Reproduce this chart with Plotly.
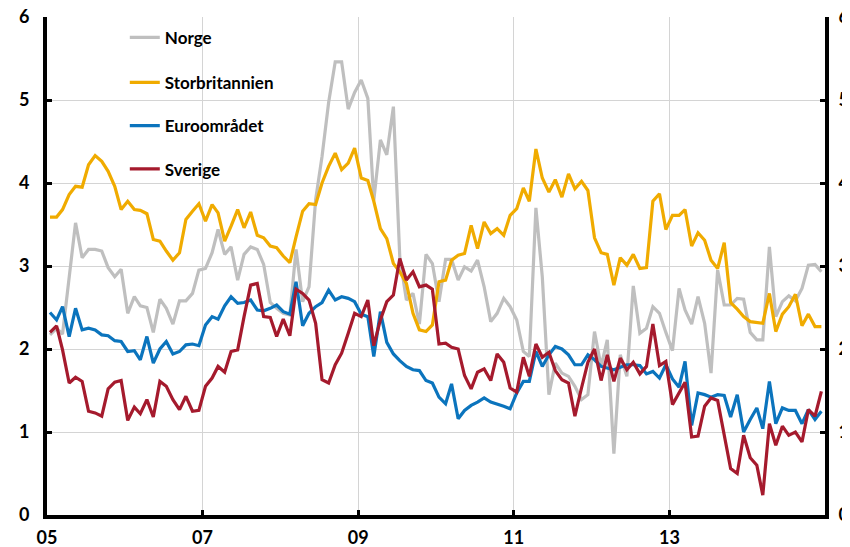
import plotly.graph_objects as go
import pandas as pd

# Monthly observations Jan 2005 - Dec 2014 (plotted mid-month)
months = pd.date_range("2005-01-01", periods=120, freq="MS") + pd.Timedelta(days=14)

norge = [
    2.17, 2.25, 2.18, 2.85, 3.52, 3.10, 3.20, 3.20, 3.18, 2.98, 2.87, 2.96,
    2.43, 2.63, 2.52, 2.50, 2.20, 2.60, 2.49, 2.30, 2.58, 2.58, 2.67, 2.95,
    2.97, 3.16, 3.44, 3.14, 3.23, 2.83, 3.14, 3.23, 3.20, 3.02, 2.56, 2.49,
    2.43, 2.41, 3.20, 2.57, 2.75, 3.80, 4.32, 4.97, 5.46, 5.46, 4.89, 5.09,
    5.24, 5.02, 3.79, 4.52, 4.34, 4.92, 3.11, 2.59, 2.67, 2.30, 3.14, 3.03,
    2.57, 3.08, 3.08, 2.83, 2.99, 2.94, 3.07, 2.75, 2.33, 2.43, 2.61, 2.51,
    2.35, 1.97, 1.91, 3.70, 2.87, 1.45, 1.83, 1.71, 1.67, 1.55, 1.39, 1.45,
    2.21, 1.79, 2.11, 0.74, 1.93, 1.67, 2.76, 2.19, 2.25, 2.51, 2.43, 2.20,
    1.98, 2.73, 2.47, 2.30, 2.63, 2.31, 1.71, 2.95, 2.53, 2.53, 2.61, 2.60,
    2.20, 2.11, 2.11, 3.23, 2.39, 2.57, 2.64, 2.58, 2.73, 3.01, 3.02, 2.93,
]

storbritannien = [
    3.59, 3.59, 3.68, 3.86, 3.96, 3.95, 4.22, 4.33, 4.26, 4.14, 3.96, 3.68,
    3.78, 3.68, 3.67, 3.63, 3.32, 3.30, 3.18, 3.07, 3.16, 3.56, 3.66, 3.75,
    3.54, 3.74, 3.64, 3.30, 3.48, 3.68, 3.46, 3.65, 3.37, 3.34, 3.24, 3.22,
    3.12, 3.04, 3.35, 3.66, 3.75, 3.74, 4.00, 4.20, 4.36, 4.16, 4.24, 4.42,
    4.06, 4.03, 3.78, 3.45, 3.33, 3.03, 2.93, 2.79, 2.43, 2.23, 2.21, 2.29,
    2.81, 2.83, 3.07, 3.13, 3.15, 3.49, 3.21, 3.53, 3.39, 3.45, 3.37, 3.61,
    3.69, 3.94, 3.78, 4.41, 4.06, 3.89, 4.04, 3.83, 4.11, 3.93, 4.02, 3.91,
    3.34, 3.16, 3.14, 2.77, 3.10, 3.01, 3.14, 2.97, 2.98, 3.78, 3.87, 3.44,
    3.61, 3.61, 3.68, 3.24, 3.40, 3.31, 3.07, 2.97, 3.28, 2.56, 2.48, 2.39,
    2.33, 2.32, 2.31, 2.67, 2.21, 2.42, 2.51, 2.66, 2.28, 2.42, 2.27, 2.27,
]

euroomradet = [
    2.44, 2.35, 2.51, 2.15, 2.49, 2.23, 2.25, 2.23, 2.17, 2.16, 2.10, 2.09,
    1.97, 1.98, 1.87, 2.15, 1.83, 2.00, 2.09, 1.94, 1.97, 2.05, 2.06, 2.04,
    2.29, 2.39, 2.36, 2.52, 2.63, 2.55, 2.56, 2.59, 2.47, 2.46, 2.49, 2.53,
    2.45, 2.42, 2.81, 2.28, 2.43, 2.51, 2.56, 2.71, 2.59, 2.63, 2.61, 2.57,
    2.42, 2.39, 1.91, 2.45, 2.08, 1.94, 1.86, 1.79, 1.75, 1.74, 1.62, 1.59,
    1.42, 1.34, 1.58, 1.16, 1.26, 1.32, 1.36, 1.41, 1.36, 1.34, 1.31, 1.28,
    1.47, 1.61, 1.61, 1.97, 1.79, 1.93, 2.03, 2.00, 1.93, 1.81, 1.81, 1.93,
    1.87, 1.79, 1.77, 1.75, 1.78, 1.81, 1.81, 1.80, 1.70, 1.73, 1.65, 1.81,
    1.64, 1.54, 1.85, 1.08, 1.47, 1.45, 1.42, 1.45, 1.44, 1.18, 1.45, 1.00,
    1.15, 1.29, 1.04, 1.61, 1.10, 1.29, 1.26, 1.26, 1.10, 1.27, 1.15, 1.25,
]

sverige = [
    2.20, 2.28, 1.99, 1.59, 1.66, 1.61, 1.25, 1.23, 1.19, 1.52, 1.60, 1.62,
    1.14, 1.30, 1.22, 1.39, 1.18, 1.61, 1.55, 1.39, 1.27, 1.43, 1.25, 1.26,
    1.55, 1.65, 1.79, 1.72, 1.97, 1.99, 2.39, 2.77, 2.79, 2.39, 2.38, 2.15,
    2.36, 2.16, 2.72, 2.67, 2.59, 2.31, 1.63, 1.59, 1.81, 1.95, 2.19, 2.43,
    2.39, 2.59, 2.04, 2.35, 2.57, 2.65, 3.09, 2.83, 2.93, 2.75, 2.77, 2.72,
    2.06, 2.07, 2.02, 2.00, 1.68, 1.52, 1.72, 1.76, 1.62, 1.94, 1.84, 1.53,
    1.48, 1.90, 1.67, 2.06, 1.90, 1.96, 1.74, 1.63, 1.59, 1.19, 1.53, 1.84,
    2.00, 1.62, 1.93, 1.61, 1.89, 1.75, 1.84, 1.70, 1.79, 2.30, 1.80, 1.85,
    1.33, 1.47, 1.60, 0.94, 0.95, 1.31, 1.41, 1.38, 0.98, 0.56, 0.50, 0.96,
    0.69, 0.60, 0.24, 1.10, 0.84, 1.07, 0.96, 1.00, 0.88, 1.27, 1.19, 1.49,
]

series_names = ["Norge", "Storbritannien", "Euroområdet", "Sverige"]
series_values = [norge, storbritannien, euroomradet, sverige]
colors = ["#bfbfbf", "#f0ab00", "#0b74bd", "#a51a2d"]

x_tick_dates = ["2005-01-01", "2007-01-01", "2009-01-01", "2011-01-01", "2013-01-01"]
x_tick_labels = ["05", "07", "09", "11", "13"]
y_ticks = [0, 1, 2, 3, 4, 5, 6]

FONT = "Lato"
legend_ids = ["legend", "legend2", "legend3", "legend4"]
legend_y = [0.958, 0.868, 0.781, 0.694]

fig = go.Figure()
for name, vals, col, lid in zip(series_names, series_values, colors, legend_ids):
    fig.add_trace(go.Scatter(
        x=months, y=vals, mode="lines", name=name,
        line=dict(color=col, width=3.2), legend=lid,
    ))

# invisible companion trace so the right-hand axis is drawn
fig.add_trace(go.Scatter(
    x=months, y=sverige, mode="lines", yaxis="y2",
    line=dict(color="rgba(0,0,0,0)", width=0),
    showlegend=False, hoverinfo="skip",
))

legend_common = dict(
    x=0.10, xanchor="left", yanchor="middle",
    bgcolor="rgba(0,0,0,0)", borderwidth=0,
    font=dict(family=FONT, size=17, color="black", weight="bold"),
    itemwidth=30,
)
layout_legends = {}
for lid, ly in zip(legend_ids, legend_y):
    layout_legends[lid] = dict(legend_common, y=ly)

tickfont = dict(family=FONT, size=18, color="black", weight="bold")
axis_common = dict(
    showline=True, linecolor="black", linewidth=4,
    ticks="inside", ticklen=5, tickwidth=3, tickcolor="black",
    tickfont=tickfont, zeroline=False, ticklabeloverflow="allow",
)

fig.update_layout(
    width=842, height=539,
    margin=dict(l=39, r=25, t=9, b=32, autoexpand=False),
    paper_bgcolor="white", plot_bgcolor="white",
    showlegend=True,
    xaxis=dict(
        axis_common,
        type="date", range=["2005-01-01", "2015-01-01"],
        tickvals=x_tick_dates, ticktext=x_tick_labels,
        showgrid=True, gridcolor="#d4d4d4", gridwidth=1,
        ticklabelstandoff=3,
    ),
    yaxis=dict(
        axis_common,
        range=[0, 6], tickvals=y_ticks,
        showgrid=True, gridcolor="#d4d4d4", gridwidth=1,
        ticklabelstandoff=10,
    ),
    yaxis2=dict(
        axis_common,
        range=[0, 6], tickvals=y_ticks, overlaying="y", side="right",
        showgrid=False, ticklabelstandoff=6,
    ),
    **layout_legends,
)

fig.write_html("out.html")
